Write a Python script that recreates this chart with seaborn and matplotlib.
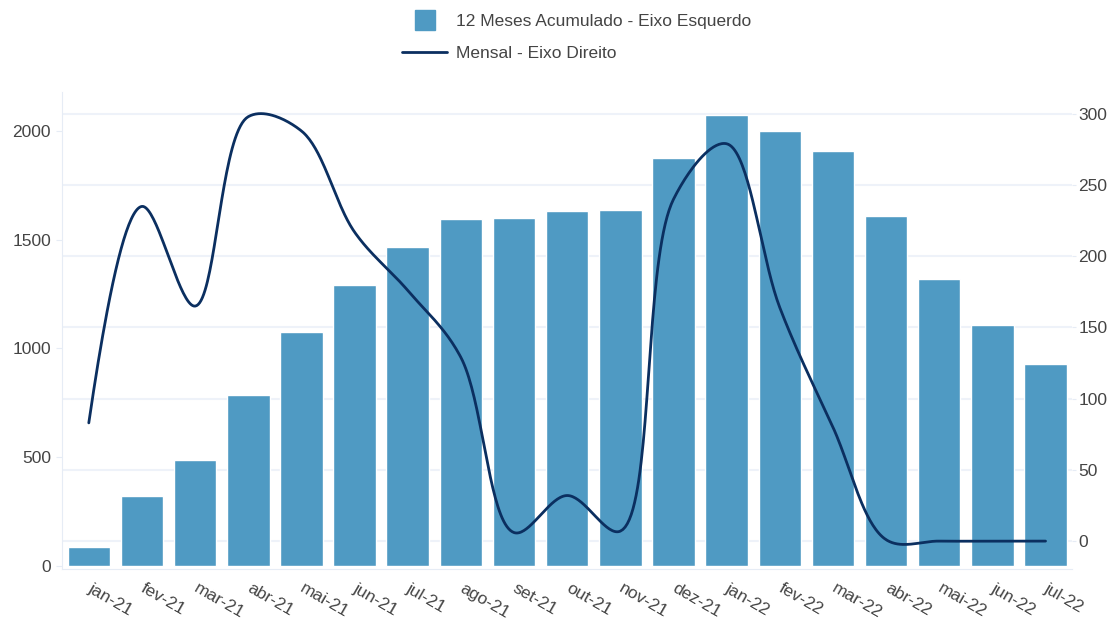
import numpy as np
import pandas as pd
import matplotlib
matplotlib.use('Agg')
import matplotlib.pyplot as plt
import seaborn as sns
from matplotlib.lines import Line2D

months = ['jan-21', 'fev-21', 'mar-21', 'abr-21', 'mai-21', 'jun-21', 'jul-21', 'ago-21',
          'set-21', 'out-21', 'nov-21', 'dez-21', 'jan-22', 'fev-22', 'mar-22', 'abr-22',
          'mai-22', 'jun-22', 'jul-22']
acumulado_12m = [87, 322, 487, 786, 1076, 1292, 1467, 1595, 1600, 1632, 1637, 1876,
                 2074, 2000, 1908, 1609, 1320, 1108, 929]
mensal = [83, 235, 165, 298, 288, 217, 176, 129, 6, 32, 7, 240, 279, 164, 80, 1, 0, 0, 0]

bar_color = '#4f9ac3'
line_color = '#0b2f60'
light = '#e6ecf5'
txt = '#444444'

sns.set_style('white')
plt.rcParams['font.family'] = ['Liberation Sans', 'DejaVu Sans']
plt.rcParams['font.size'] = 12.5


def tangent(prev, this, nxt, s=1.0):
    # centripetal catmull-rom control points (same smoothing as plotly's "spline")
    d1 = prev - this
    d2 = nxt - this
    d1a = np.hypot(*d1) ** 0.5
    d2a = np.hypot(*d2) ** 0.5
    num = (d2a ** 2 * d1 - d1a ** 2 * d2) * s
    return this + num / (3 * d2a * (d1a + d2a)), this - num / (3 * d1a * (d1a + d2a))


def smooth(pts, n=40):
    t = np.linspace(0, 1, n)[:, None]
    tg = [tangent(pts[i - 1], pts[i], pts[i + 1]) for i in range(1, len(pts) - 1)]
    segs = [(1 - t) ** 2 * pts[0] + 2 * (1 - t) * t * tg[0][0] + t ** 2 * pts[1]]
    for i in range(2, len(pts) - 1):
        a, b, c, d = pts[i - 1], tg[i - 2][1], tg[i - 1][0], pts[i]
        segs.append((1 - t) ** 3 * a + 3 * (1 - t) ** 2 * t * b + 3 * (1 - t) * t ** 2 * c + t ** 3 * d)
    segs.append((1 - t) ** 2 * pts[-2] + 2 * (1 - t) * t * tg[-1][1] + t ** 2 * pts[-1])
    return np.vstack(segs)


df = pd.DataFrame({'mes': months, 'acum': acumulado_12m, 'mensal': mensal})

fig = plt.figure(figsize=(11.11, 6.2), dpi=100)
ax = fig.add_axes([0.056, 0.082, 0.909, 0.77])
ax2 = ax.twinx()

sns.barplot(data=df, x='mes', y='acum', color=bar_color, saturation=1, width=0.8, ax=ax, zorder=2)

ax.set_xlim(-0.5, len(months) - 0.5)
ax2.set_xlim(-0.5, len(months) - 0.5)
ax.set_ylim(-14, 2179)
ax2.set_ylim(-19.7, 315.5)

# spline is smoothed in screen space, then mapped back to data units
xy = np.column_stack([np.arange(len(months)), df['mensal']]).astype(float)
px = ax2.transData.transform(xy)
curve = ax2.transData.inverted().transform(smooth(px))
sns.lineplot(x=curve[:, 0], y=curve[:, 1], color=line_color, linewidth=2, ax=ax2,
             sort=False, estimator=None)

ax.set_yticks([0, 500, 1000, 1500, 2000])
ax2.set_yticks([0, 50, 100, 150, 200, 250, 300])
ax.set_xlabel('')
ax.set_ylabel('')
ax2.set_ylabel('')

# grid of the right axis, drawn behind the bars
l0, l1 = ax.get_ylim()
r0, r1 = ax2.get_ylim()
for r in ax2.get_yticks():
    ax.axhline(l0 + (r - r0) / (r1 - r0) * (l1 - l0), color='#eef2f9', linewidth=1.5, zorder=0)

for a in (ax, ax2):
    for s in a.spines.values():
        s.set_visible(False)
ax.spines['left'].set_visible(True)
ax.spines['left'].set_color(light)
ax.spines['bottom'].set_visible(True)
ax.spines['bottom'].set_color(light)

ax.tick_params(axis='y', length=4, color=light, labelcolor=txt, pad=4)
ax2.tick_params(axis='y', length=3, color=light, labelcolor=txt, pad=1.5)
ax.tick_params(axis='x', length=4, color=light, labelcolor=txt, pad=9)
for lab in ax.get_xticklabels():
    lab.set_rotation(-30)
    lab.set_ha('left')
    lab.set_va('center')
    lab.set_rotation_mode('anchor')

handles = [Line2D([], [], marker='s', linestyle='none', markersize=14, color=bar_color),
           Line2D([], [], color=line_color, linewidth=2)]
fig.legend(handles, ['12 Meses Acumulado - Eixo Esquerdo', 'Mensal - Eixo Direito'],
           loc='upper left', bbox_to_anchor=(0.362, 0.977), frameon=False,
           handlelength=2.6, handletextpad=0.5, labelspacing=0.95, borderpad=0,
           borderaxespad=0, labelcolor=txt)

fig.savefig('out.png', dpi=100)
